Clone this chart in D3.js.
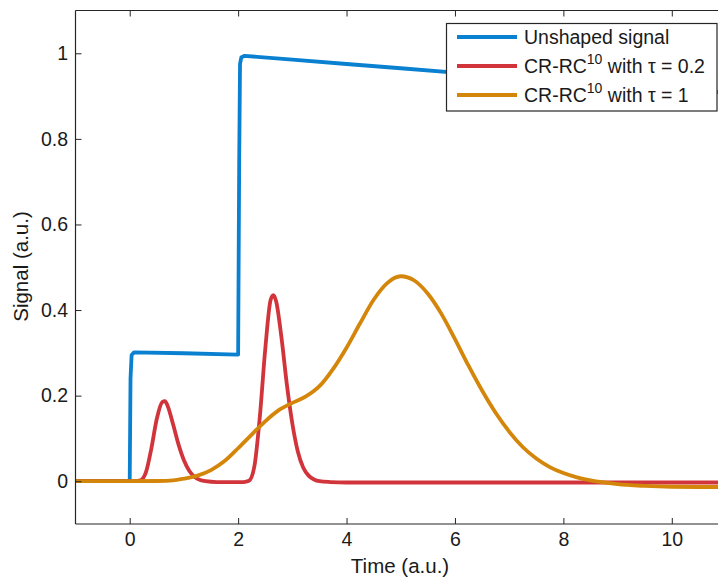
<!DOCTYPE html>
<html>
<head>
<meta charset="utf-8">
<script src="https://cdn.jsdelivr.net/npm/d3@7"></script>
<style>
  html, body { margin: 0; padding: 0; background: #fff; }
  svg { display: block; }
  text { font-family: "Liberation Sans", Arial, Helvetica, sans-serif; }
</style>
</head>
<body>
<svg id="chart" width="718" height="580"></svg>
<script>
// ---- data ----
const xTicks = [0, 2, 4, 6, 8, 10];
const yTicks = [0, 0.2, 0.4, 0.6, 0.8, 1];

const tBlue = [-1, 0, 0.015, 0.035, 0.08, 1.0, 1.99, 2.0, 2.02, 2.035, 2.06, 2.12, 3, 4, 5, 6, 8, 10, 11];
const vBlue = [0, 0, 0.24, 0.295, 0.301, 0.299, 0.296, 0.296, 0.75, 0.975, 0.991, 0.994, 0.985, 0.975, 0.965, 0.955, 0.936, 0.917, 0.908];

const tRed = [-1, 0, 0.1, 0.2, 0.3, 0.4, 0.5, 0.6, 0.65, 0.7, 0.8, 0.9, 1.0, 1.1, 1.2, 1.3, 1.4, 1.6, 1.8, 2.0, 2.1, 2.2, 2.3, 2.4, 2.5, 2.6, 2.65, 2.7, 2.8, 2.9, 3.0, 3.1, 3.2, 3.3, 3.4, 3.5, 3.7, 4.0, 6, 8, 11];
const vRed = [0, 0, 0, 0.002, 0.021, 0.077, 0.146, 0.185, 0.187, 0.176, 0.133, 0.086, 0.049, 0.024, 0.010, 0.003, 0.0, -0.002, -0.002, -0.002, -0.002, 0.001, 0.035, 0.150, 0.308, 0.424, 0.435, 0.421, 0.335, 0.225, 0.135, 0.070, 0.032, 0.013, 0.004, 0.0, -0.002, -0.003, -0.003, -0.003, -0.003];

const tOrange = [-1, 0, 0.5, 0.8, 1.0, 1.25, 1.5, 1.75, 2.0, 2.25, 2.5, 2.75, 3.0, 3.25, 3.5, 3.75, 4.0, 4.25, 4.5, 4.75, 5.0, 5.25, 5.5, 5.75, 6.0, 6.25, 6.5, 6.75, 7.0, 7.25, 7.5, 7.75, 8.0, 8.25, 8.5, 8.75, 9.0, 9.5, 10, 10.5, 11];
const vOrange = [0, 0, 0.0005, 0.002, 0.006, 0.013, 0.026, 0.047, 0.077, 0.109, 0.140, 0.166, 0.183, 0.198, 0.222, 0.262, 0.312, 0.369, 0.424, 0.463, 0.479, 0.469, 0.438, 0.391, 0.332, 0.270, 0.212, 0.160, 0.116, 0.080, 0.053, 0.033, 0.019, 0.009, 0.002, -0.003, -0.007, -0.011, -0.013, -0.0135, -0.0135];

const seriesColors = ["#0a80d0", "#d1343a", "#d4860a"];

(function () {
// ---- layout ----
const svg = d3.select("#chart");
const pL = 75.5, pR = 726, pT = 10.5, pB = 524;
const x = d3.scaleLinear().domain([-1, 11]).range([pL, pR]);
const y = d3.scaleLinear().domain([-0.1, 1.1]).range([pB, pT]);
const axisColor = "#262626";

svg.append("defs").append("clipPath").attr("id", "clip")
  .append("rect").attr("x", pL).attr("y", pT).attr("width", pR - pL).attr("height", pB - pT);

// ---- lines ----
const line = (curve) => d3.line().x(d => x(d[0])).y(d => y(d[1])).curve(curve);
const g = svg.append("g").attr("clip-path", "url(#clip)");
const series = [
  { data: d3.zip(tBlue, vBlue), curve: d3.curveLinear, color: seriesColors[0] },
  { data: d3.zip(tRed, vRed), curve: d3.curveMonotoneX, color: seriesColors[1] },
  { data: d3.zip(tOrange, vOrange), curve: d3.curveMonotoneX, color: seriesColors[2] }
];
series.forEach(s => {
  g.append("path").datum(s.data)
    .attr("d", line(s.curve))
    .attr("fill", "none")
    .attr("stroke", s.color)
    .attr("stroke-width", 3.8)
    .attr("stroke-linejoin", "round")
    .attr("stroke-linecap", "butt");
});

// ---- axes ----
const fs = 19.5;
const xb = svg.append("g").attr("transform", `translate(0,${pB})`)
  .call(d3.axisBottom(x).tickValues(xTicks).tickSize(-6).tickPadding(8).tickFormat(d3.format("d")));
const xt = svg.append("g").attr("transform", `translate(0,${pT})`)
  .call(d3.axisTop(x).tickValues(xTicks).tickSize(-6).tickFormat(""));
const yl = svg.append("g").attr("transform", `translate(${pL},0)`)
  .call(d3.axisLeft(y).tickValues(yTicks).tickSize(-6).tickPadding(7.5).tickFormat(d => d === 0 || d === 1 ? String(d) : d3.format(".1f")(d)));
const yr = svg.append("g").attr("transform", `translate(${pR},0)`)
  .call(d3.axisRight(y).tickValues(yTicks).tickSize(-6).tickFormat(""));
[xb, xt, yl, yr].forEach(a => {
  a.select(".domain").attr("stroke", axisColor).attr("stroke-width", 1.2);
  a.selectAll(".tick line").attr("stroke", axisColor).attr("stroke-width", 1);
  a.selectAll("text").attr("font-size", fs).attr("fill", "#1a1a1a")
    .attr("font-family", "Liberation Sans, Arial, sans-serif");
});
[xb, xt].forEach(a => a.select(".domain").attr("d", `M${pL},0H${pR}`));
[yl, yr].forEach(a => a.select(".domain").attr("d", `M0,${pB}V${pT}`));

// axis labels
svg.append("text").attr("x", 400).attr("y", 573)
  .attr("text-anchor", "middle").attr("font-size", 20.5).attr("fill", "#1a1a1a")
  .text("Time (a.u.)");
svg.append("text").attr("transform", `translate(27.5,266.5) rotate(-90)`)
  .attr("text-anchor", "middle").attr("font-size", 20.5).attr("fill", "#1a1a1a")
  .text("Signal (a.u.)");

// ---- legend ----
const lg = svg.append("g");
lg.append("rect").attr("x", 446.5).attr("y", 23.5).attr("width", 270.5).attr("height", 87.5)
  .attr("fill", "#fff").attr("stroke", axisColor).attr("stroke-width", 1.2);
const rowsY = [37, 66, 95];
const legendLabels = [
  { main: "Unshaped signal" },
  { main: "CR-RC", sup: "10", rest: " with τ = 0.2" },
  { main: "CR-RC", sup: "10", rest: " with τ = 1" }
];
legendLabels.forEach((l, i) => {
  lg.append("line").attr("x1", 457).attr("x2", 517).attr("y1", rowsY[i]).attr("y2", rowsY[i])
    .attr("stroke", seriesColors[i]).attr("stroke-width", 3.8);
  const t = lg.append("text").attr("x", 524).attr("y", rowsY[i] + 7)
    .attr("font-size", fs).attr("fill", "#1a1a1a");
  t.append("tspan").text(l.main);
  if (l.sup) {
    t.append("tspan").attr("font-size", 14).attr("dy", -9).text(l.sup);
    t.append("tspan").attr("dy", 9).text(l.rest);
  }
});
})();
</script>
</body>
</html>
